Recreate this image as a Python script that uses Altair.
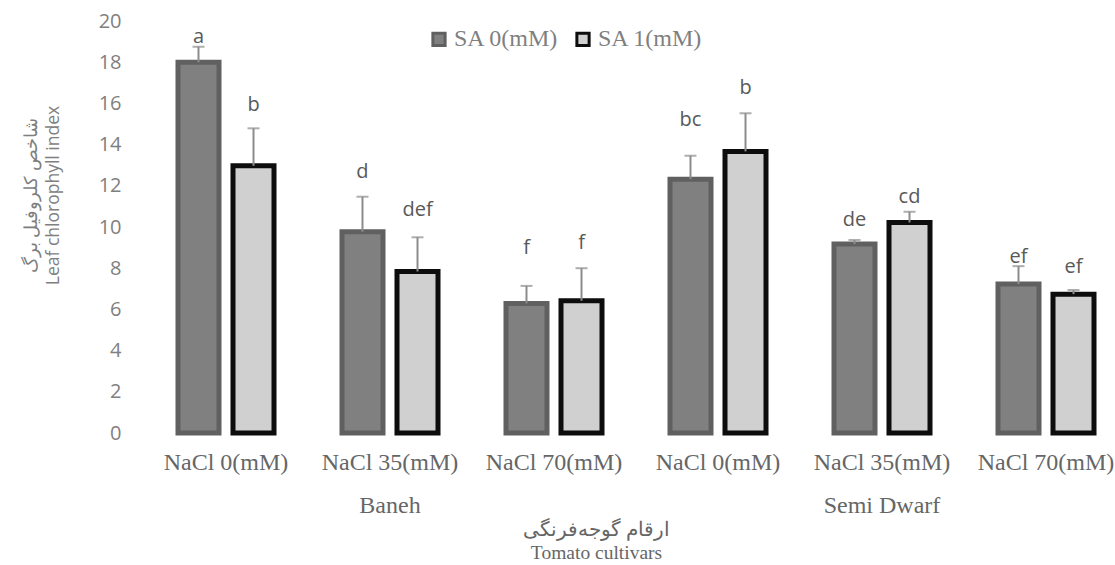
import altair as alt
import pandas as pd

# ---- data ----
cultivars = ["Baneh", "Baneh", "Baneh", "Semi Dwarf", "Semi Dwarf", "Semi Dwarf"]
nacl = ["NaCl 0(mM)", "NaCl 35(mM)", "NaCl 70(mM)", "NaCl 0(mM)", "NaCl 35(mM)", "NaCl 70(mM)"]
sa_levels = ["SA 0(mM)", "SA 1(mM)"]

sa0_mean = [18.0, 9.77, 6.29, 12.32, 9.17, 7.23]
sa0_sd = [0.75, 1.70, 0.85, 1.14, 0.20, 0.87]
sa0_letters = ["a", "d", "f", "bc", "de", "ef"]
sa0_letter_y = [19.22, 12.67, 8.98, 15.19, 10.34, 8.54]

sa1_mean = [12.97, 7.84, 6.42, 13.67, 10.22, 6.74]
sa1_sd = [1.82, 1.66, 1.58, 1.85, 0.52, 0.20]
sa1_letters = ["b", "def", "f", "b", "cd", "ef"]
sa1_letter_y = [15.92, 10.83, 9.22, 16.75, 11.46, 8.06]

y_ticks = [0, 2, 4, 6, 8, 10, 12, 14, 16, 18, 20]

# ---- build table ----
rows = []
cats = []
for i in range(6):
    cat = f"{cultivars[i]}|{nacl[i]}"
    cats.append(cat)
    for sa, m, s, l, ly in [
        (sa_levels[0], sa0_mean[i], sa0_sd[i], sa0_letters[i], sa0_letter_y[i]),
        (sa_levels[1], sa1_mean[i], sa1_sd[i], sa1_letters[i], sa1_letter_y[i]),
    ]:
        rows.append({"cat": cat, "SA": sa, "value": m, "top": m + s,
                     "letter": l, "letter_y": ly})
df = pd.DataFrame(rows)

serif = "Liberation Serif"
sans = "Open Sans"

label_expr = ("indexof(datum.value, 'NaCl 35') >= 0 ? "
              "[split(datum.value, '|')[1], split(datum.value, '|')[0]] : "
              "split(datum.value, '|')[1]")

x_enc = alt.X(
    "cat:N", sort=cats,
    scale=alt.Scale(range=[0, 984], paddingInner=0, paddingOuter=0),
    axis=alt.Axis(
        title=["ارقام گوجه‌فرنگی", "Tomato cultivars"],
        titleFont=serif, titleFontSize=19.5, titleFontWeight="normal", titleColor="#666666",
        titleX=452, titleY=87, titleAlign="center", titleBaseline="top", titleLineHeight=23,
        labelExpr=label_expr, labelAngle=0, labelFont=serif, labelFontSize=24,
        labelColor="#666666", labelPadding=17, labelBaseline="top", labelLineHeight=43,
        labelLimit=400, domain=False, ticks=False, grid=False,
    ),
)
xoff = alt.XOffset("SA:N", sort=sa_levels,
                   scale=alt.Scale(paddingInner=0.2545, paddingOuter=0.618))
y_scale = alt.Scale(domain=[0, 20], nice=False, zero=True)

legend = alt.Legend(
    title=None, orient="none", direction="horizontal", legendX=283, legendY=6,
    symbolType="square", symbolSize=150, symbolStrokeWidth=3,
    labelFont=serif, labelFontSize=24, labelColor="#7f7f7f", labelOffset=3,
    columnPadding=11, labelLimit=300,
)

bars = alt.Chart(df).mark_bar(strokeWidth=5).encode(
    x=x_enc,
    xOffset=xoff,
    y=alt.Y("value:Q", scale=y_scale, axis=alt.Axis(
        values=y_ticks, title=["شاخص کلروفیل برگ", "Leaf chlorophyll index"],
        titleFont=sans, titleFontSize=17.5, titleFontWeight="normal", titleColor="#7f7f7f",
        titleX=-104, titleY=174, titleAlign="center", titleBaseline="bottom",
        titleLineHeight=22,
        labelFont=sans, labelFontSize=20, labelColor="#7f7f7f", labelPadding=23,
        domain=False, ticks=False, grid=False,
    )),
    fill=alt.Fill("SA:N", sort=sa_levels,
                  scale=alt.Scale(domain=sa_levels, range=["#808080", "#d0d0d0"]),
                  legend=legend),
    stroke=alt.Stroke("SA:N", sort=sa_levels,
                      scale=alt.Scale(domain=sa_levels, range=["#606060", "#0d0d0d"]),
                      legend=legend),
)

err = alt.Chart(df).mark_rule(color="#8c8c8c", strokeWidth=2).encode(
    x=alt.X("cat:N", sort=cats), xOffset=xoff,
    y=alt.Y("value:Q", scale=y_scale), y2="top:Q",
)
caps = alt.Chart(df).mark_tick(color="#8c8c8c", thickness=2, size=12).encode(
    x=alt.X("cat:N", sort=cats), xOffset=xoff,
    y=alt.Y("top:Q", scale=y_scale),
)
letters = alt.Chart(df).mark_text(font=sans, fontSize=20, color="#595959",
                                  baseline="middle", align="center").encode(
    x=alt.X("cat:N", sort=cats), xOffset=xoff,
    y=alt.Y("letter_y:Q", scale=y_scale),
    text="letter:N",
)

chart = alt.layer(bars, err, caps, letters).properties(
    width=970, height=412,
    autosize=alt.AutoSizeParams(type="none"),
    padding={"left": 144, "top": 21, "right": 1, "bottom": 132},
    background="white",
).configure_view(stroke=None)

chart.save("out.html", embed_options={"renderer": "svg", "actions": False})
